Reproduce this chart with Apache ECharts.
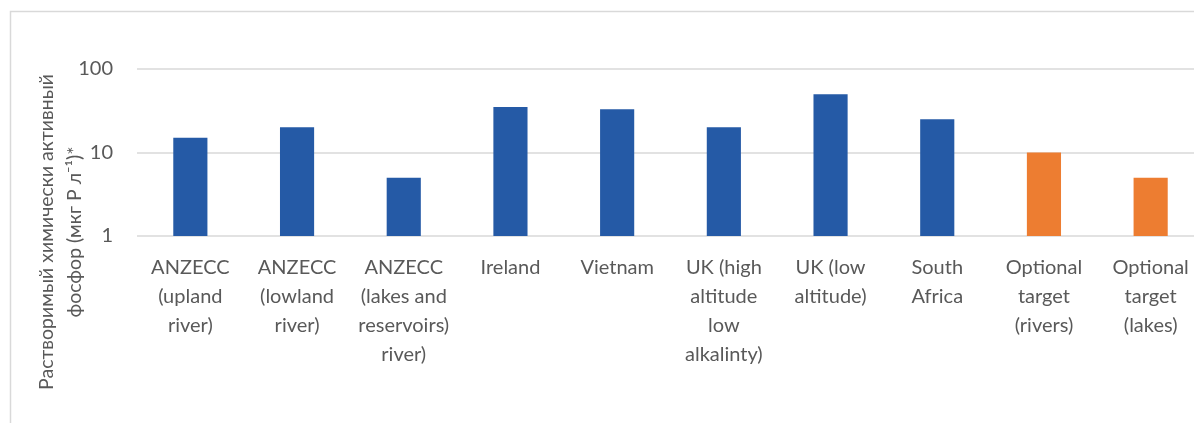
<!DOCTYPE html>
<html>
<head>
<meta charset="utf-8">
<script src="https://cdn.jsdelivr.net/npm/echarts@6/dist/echarts.min.js"></script>
<style>
html,body{margin:0;padding:0;background:#fff;}
#chart{width:1194px;height:423px;}
</style>
</head>
<body>
<div id="chart"></div>
<script>
const categories = [
  "ANZECC\n(upland\nriver)",
  "ANZECC\n(lowland\nriver)",
  "ANZECC\n(lakes and\nreservoirs)\nriver)",
  "Ireland",
  "Vietnam",
  "UK (high\naltitude\nlow\nalkalinty)",
  "UK (low\naltitude)",
  "South\nAfrica",
  "Optional\ntarget\n(rivers)",
  "Optional\ntarget\n(lakes)"
];
const values = [15, 20, 5, 35, 33, 20, 50, 25, 10, 5];
const kinds = ["guideline","guideline","guideline","guideline","guideline","guideline","guideline","guideline","target","target"];
const yTicks = [1, 10, 100];
const yTitle = "Растворимый химически активный\nфосфор (мкг P л⁻¹)*";

const kindColor = { guideline: "#255AA6", target: "#ED7D31" };
const font = "Lato, 'Open Sans', sans-serif";

const chart = echarts.init(document.getElementById('chart'), null, {renderer: 'canvas'});
chart.setOption({
  animation: false,
  backgroundColor: '#ffffff',
  graphic: [{
    type: 'rect',
    shape: {x: 10.5, y: 11.5, width: 1300, height: 600},
    style: {fill: 'none', stroke: '#D9D9D9', lineWidth: 1.5},
    silent: true
  }, {
    type: 'text',
    x: 61,
    y: 232,
    rotation: Math.PI / 2,
    silent: true,
    style: {
      text: yTitle,
      fill: '#595959',
      font: "19.5px Lato, 'Open Sans', sans-serif",
      lineHeight: 28,
      align: 'center',
      verticalAlign: 'middle'
    }
  }],
  grid: {left: 137, right: -10, top: 69, bottom: 187, containLabel: false, outerBoundsMode: 'none'},
  xAxis: {
    type: 'category',
    data: categories,
    axisLine: {show: false},
    axisTick: {show: false},
    axisLabel: {
      interval: 0,
      margin: 17,
      color: '#595959',
      fontFamily: font,
      fontSize: 20,
      lineHeight: 29,
      align: 'center'
    }
  },
  yAxis: {
    type: 'log',
    logBase: 10,
    min: yTicks[0],
    max: yTicks[yTicks.length - 1],
    axisLine: {show: false},
    axisTick: {show: false},
    splitLine: {lineStyle: {color: '#D9D9D9', width: 1.5}},
    axisLabel: {
      margin: 24,
      color: '#595959',
      fontFamily: font,
      fontSize: 20
    }
  },
  series: [{
    type: 'bar',
    data: values,
    barWidth: '32%',
    itemStyle: {
      color: p => kindColor[kinds[p.dataIndex]]
    }
  }]
});
</script>
</body>
</html>
